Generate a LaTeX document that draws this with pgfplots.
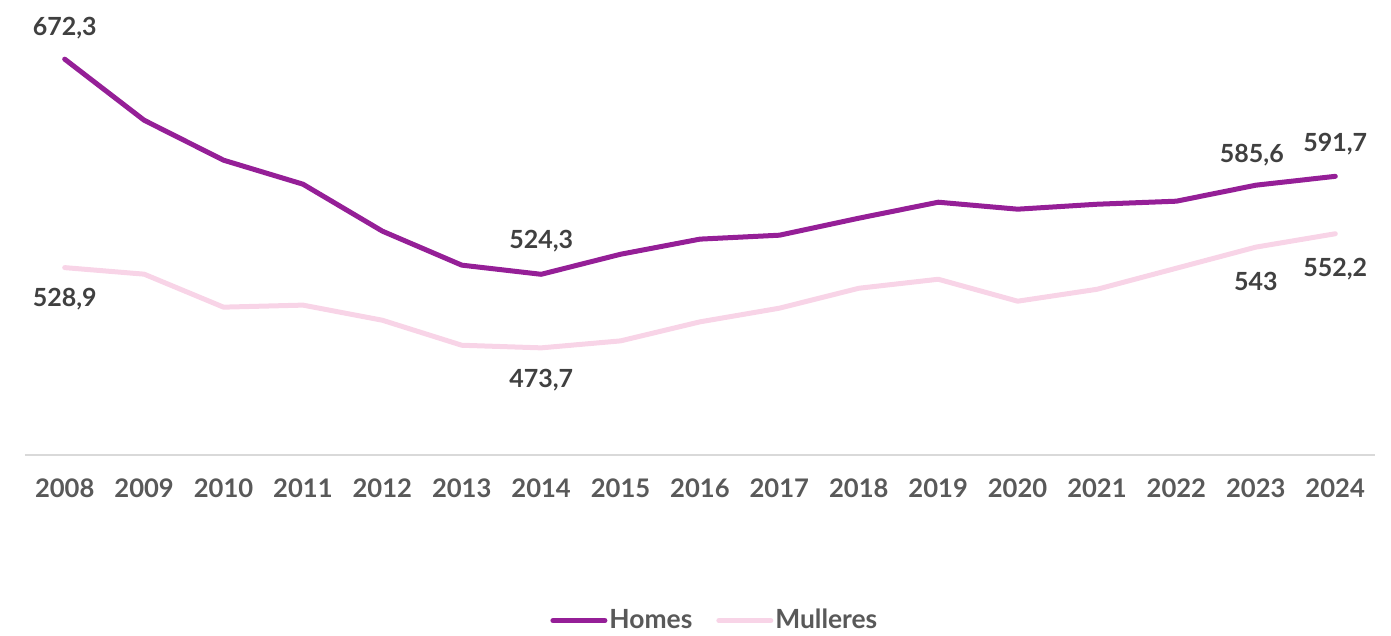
\documentclass[border=0pt]{standalone}
\usepackage{fontspec}
\setmainfont{Lato}
\usepackage{pgfplots}
\pgfplotsset{compat=1.18}
\definecolor{homes}{HTML}{951F97}
\definecolor{mulleres}{HTML}{F8D4E7}
\definecolor{lbl}{HTML}{404040}
\definecolor{tck}{HTML}{595959}
\definecolor{axl}{HTML}{D9D9D9}

\begin{document}
\begin{tikzpicture}
\useasboundingbox (-12.5pt,-90.5pt) rectangle (683pt,227.5pt);
\begin{axis}[
    at={(0,0)}, anchor=south west,
    scale only axis, width=675pt, height=227.5pt,
    xmin=2007.5, xmax=2024.5, ymin=400, ymax=713,
    axis x line*=bottom, axis y line=none,
    x axis line style={axl, line width=1pt},
    major tick length=0pt,
    xtick={2008,...,2024},
    xticklabels={2008,2009,2010,2011,2012,2013,2014,2015,2016,2017,2018,2019,2020,2021,2022,2023,2024},
    xticklabel style={tck, font=\fontsize{12.8}{15}\selectfont\bfseries, yshift=-8.5pt},
    clip=false,
    legend columns=2,
    legend style={at={(0.511,-0.364)}, anchor=center, draw=none,
        font=\fontsize{13.2}{15}\selectfont\bfseries, text=tck,
        nodes={inner sep=1pt},
        /tikz/every even column/.append style={column sep=11pt}},
    legend image code/.code={\draw[#1, line cap=round] (0pt,0pt) -- (26pt,0pt);},
    every axis plot/.append style={line width=2.5pt, line cap=round, line join=round},
]
\addplot[homes] coordinates {
    (2008,672.3) (2009,630.3) (2010,602.8) (2011,586.3) (2012,554.0)
    (2013,530.6) (2014,524.3) (2015,538.1) (2016,548.5) (2017,551.2)
    (2018,562.9) (2019,573.9) (2020,569.1) (2021,572.5) (2022,574.6)
    (2023,585.6) (2024,591.7)};
\addlegendentry{Homes}
\addplot[mulleres] coordinates {
    (2008,528.9) (2009,524.4) (2010,501.7) (2011,503.1) (2012,492.7)
    (2013,475.5) (2014,473.7) (2015,478.5) (2016,491.6) (2017,501.0)
    (2018,514.7) (2019,520.9) (2020,505.8) (2021,514.0) (2022,528.5)
    (2023,543.0) (2024,552.2)};
\addlegendentry{Mulleres}

\tikzset{dl/.style={lbl, font=\fontsize{12.5}{15}\selectfont\bfseries}}
\node[dl, yshift=15.5pt] at (axis cs:2008,672.3) {672,3};
\node[dl, yshift=-16pt] at (axis cs:2008,528.9) {528,9};
\node[dl, yshift=16.5pt] at (axis cs:2014,524.3) {524,3};
\node[dl, yshift=-16pt] at (axis cs:2014,473.7) {473,7};
\node[dl, yshift=15pt, xshift=-2pt] at (axis cs:2023,585.6) {585,6};
\node[dl, yshift=16pt] at (axis cs:2024,591.7) {591,7};
\node[dl, yshift=-17pt] at (axis cs:2023,543.0) {543};
\node[dl, yshift=-17.5pt] at (axis cs:2024,552.2) {552,2};
\end{axis}
\end{tikzpicture}
\end{document}
